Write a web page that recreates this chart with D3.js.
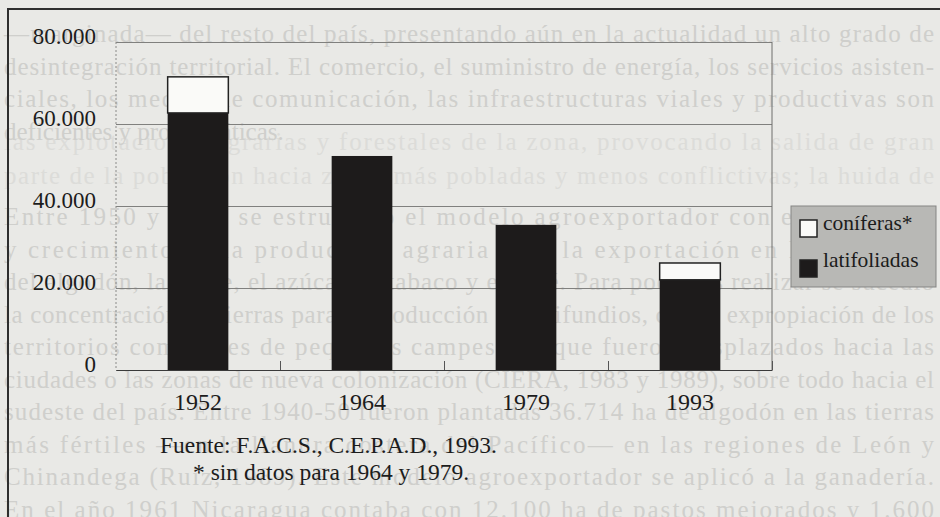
<!DOCTYPE html>
<html>
<head>
<meta charset="utf-8">
<script src="https://cdn.jsdelivr.net/npm/d3@7/dist/d3.min.js"></script>
<style>
  html, body { margin: 0; padding: 0; background: #e9e9e6; }
  svg { display: block; }
</style>
</head>
<body>
<div id="chart"></div>
<script>
// superficie forestal por año (ha)
const years = ['1952', '1964', '1979', '1993'];
const latifoliadas = [62700, 52200, 35400, 22000];
const coniferas = [8800, 0, 0, 4100];
const yTicks = [0, 20000, 40000, 60000, 80000];
const seriesKeys = ['latifoliadas', 'coniferas'];
const legendLabels = ['coníferas*', 'latifoliadas'];
const legendKeys = ['coniferas', 'latifoliadas'];
const sourceText = 'Fuente: F.A.C.S., C.E.P.A.D., 1993.';
const noteText = '* sin datos para 1964 y 1979.';

// texto impreso de la página, visible detrás del gráfico
const pageLines = [
  '—marginada— del resto del país, presentando aún en la actualidad un alto grado de',
  'desintegración territorial. El comercio, el suministro de energía, los servicios asisten-',
  'ciales, los medios de comunicación, las infraestructuras viales y productivas son',
  'deficientes y problemáticas.',
  '      Entre 1950 y 1960 se estructuró el modelo agroexportador con el desarrollo',
  'y crecimiento de la producción agraria para la exportación en los sectores',
  'del algodón, la carne, el azúcar, el tabaco y el café. Para poderlos realizar se sucedió',
  'la concentración de tierras para la producción de latifundios, con la expropiación de los',
  'territorios comunales de pequeños campesinos que fueron desplazados hacia las',
  'ciudades o las zonas de nueva colonización (CIERA, 1983 y 1989), sobre todo hacia el',
  'sudeste del país. Entre 1940-50 fueron plantadas 36.714 ha de algodón en las tierras',
  'más fértiles —en la llanura costera del Pacífico— en las regiones de León y',
  'Chinandega (Ruiz, 1989). Este modelo agroexportador se aplicó a la ganadería.',
  'En el año 1961 Nicaragua contaba con 12.100 ha de pastos mejorados y 1.600'
];
const shortLines = [3];
// texto del reverso, más tenue
const backLines = [
  'las explotaciones agrarias y forestales de la zona, provocando la salida de gran',
  'parte de la población hacia zonas más pobladas y menos conflictivas; la huida de'
];

const W = 940, H = 517;
const plotLeft = 116, plotRight = 772, plotTop = 42, plotBottom = 370;
const serif = '"Liberation Serif", "Times New Roman", serif';

const fmt = d3.formatLocale({ decimal: ',', thousands: '.', grouping: [3], currency: ['', ''] }).format(',.0f');

const svg = d3.select('#chart').append('svg')
  .attr('width', W)
  .attr('height', H);

svg.append('rect').attr('width', W).attr('height', H).attr('fill', '#e9e9e6');

// texto de fondo
const lineY = i => 42 + i * 32.5 + (i >= 4 ? 53 : 0);
svg.append('g')
  .selectAll('text')
  .data(backLines)
  .join('text')
  .attr('x', 4)
  .attr('y', (d, i) => 150 + i * 34)
  .attr('font-family', serif)
  .attr('font-size', 25)
  .attr('fill', '#dcdcd9')
  .attr('textLength', 930)
  .attr('lengthAdjust', 'spacing')
  .text(d => d);
svg.append('g')
  .selectAll('text')
  .data(pageLines)
  .join('text')
  .attr('x', 4)
  .attr('y', (d, i) => lineY(i))
  .attr('font-family', serif)
  .attr('font-size', 25)
  .attr('fill', '#cfcfcc')
  .attr('textLength', (d, i) => shortLines.includes(i) ? null : 930)
  .attr('lengthAdjust', 'spacing')
  .text(d => d);

// marco exterior
svg.append('path')
  .attr('d', `M8,${H} V9 H${W}`)
  .attr('fill', 'none')
  .attr('stroke', '#2e2e2e')
  .attr('stroke-width', 2);

const x = d3.scaleBand()
  .domain(years)
  .range([plotLeft, plotRight])
  .paddingInner(0.63)
  .paddingOuter(0.315);

const y = d3.scaleLinear()
  .domain([0, 80000])
  .range([plotBottom, plotTop]);

// eje y + líneas de cuadrícula
const yAxis = svg.append('g')
  .attr('transform', `translate(${plotLeft},0)`)
  .call(d3.axisLeft(y)
    .tickValues(yTicks)
    .tickSize(-(plotRight - plotLeft))
    .tickPadding(20)
    .tickFormat(fmt));
yAxis.select('.domain').remove();
yAxis.selectAll('.tick line')
  .attr('stroke', '#80807e')
  .attr('stroke-width', 1);
yAxis.selectAll('.tick text')
  .attr('font-family', serif)
  .attr('font-size', 23)
  .attr('fill', '#1c1c1c')
  .attr('dy', '0.08em');

// bordes del área
svg.append('line')
  .attr('x1', plotLeft).attr('x2', plotLeft).attr('y1', plotTop).attr('y2', plotBottom)
  .attr('stroke', '#8a8a88').attr('stroke-dasharray', '2,2');
svg.append('line')
  .attr('x1', plotRight).attr('x2', plotRight).attr('y1', plotTop).attr('y2', plotBottom)
  .attr('stroke', '#6e6e6c');

// barras apiladas
const rows = years.map((yr, i) => ({ year: yr, latifoliadas: latifoliadas[i], coniferas: coniferas[i] }));
const stacked = d3.stack().keys(seriesKeys)(rows);
const fill = { latifoliadas: '#1d1b1b', coniferas: '#fafaf8' };

svg.append('g')
  .selectAll('g')
  .data(stacked)
  .join('g')
  .attr('fill', d => fill[d.key])
  .attr('stroke', d => d.key === 'coniferas' ? '#222' : 'none')
  .attr('stroke-width', 1.5)
  .selectAll('rect')
  .data(d => d.filter(s => s[1] > s[0]))
  .join('rect')
  .attr('x', d => x(d.data.year))
  .attr('y', d => y(d[1]))
  .attr('width', x.bandwidth())
  .attr('height', d => y(d[0]) - y(d[1]));

// eje x: marcas entre categorías
const xb = d3.scaleLinear().domain([0, years.length]).range([plotLeft, plotRight]);
const xTicks = svg.append('g')
  .attr('transform', `translate(0,${plotBottom})`)
  .call(d3.axisBottom(xb)
    .tickValues(d3.range(1, years.length + 1))
    .tickSize(-9)
    .tickSizeOuter(0)
    .tickFormat(''));
xTicks.select('.domain').attr('stroke', '#3a3a3a').attr('stroke-width', 1.2);
xTicks.selectAll('.tick line').attr('stroke', '#555');

// etiquetas de años
const xAxis = svg.append('g')
  .attr('transform', `translate(0,${plotBottom})`)
  .call(d3.axisBottom(x).tickSize(0));
xAxis.select('.domain').remove();
xAxis.selectAll('.tick text')
  .attr('font-family', serif)
  .attr('font-size', 24)
  .attr('fill', '#1c1c1c')
  .attr('y', 40)
  .attr('dy', 0);

// leyenda
const legend = svg.append('g').attr('transform', 'translate(791,206)');
legend.append('rect')
  .attr('width', 145)
  .attr('height', 81)
  .attr('fill', '#b8b8b5')
  .attr('stroke', '#858583');
const items = legend.selectAll('g.item')
  .data(legendKeys)
  .join('g')
  .attr('class', 'item');
items.append('rect')
  .attr('x', 9)
  .attr('y', (d, i) => 14 + i * 40)
  .attr('width', 17)
  .attr('height', 17)
  .attr('fill', d => fill[d])
  .attr('stroke', '#222')
  .attr('stroke-width', 1.5);
items.append('text')
  .attr('x', 32)
  .attr('y', (d, i) => 24 + i * 37)
  .attr('font-family', serif)
  .attr('font-size', 21.5)
  .attr('fill', '#1c1c1c')
  .text((d, i) => legendLabels[i]);

// fuente y nota
svg.append('text')
  .attr('x', 160).attr('y', 453)
  .attr('font-family', serif).attr('font-size', 23.5).attr('fill', '#1c1c1c')
  .text(sourceText);
svg.append('text')
  .attr('x', 193).attr('y', 480)
  .attr('font-family', serif).attr('font-size', 23.5).attr('fill', '#1c1c1c')
  .text(noteText);
</script>
</body>
</html>
